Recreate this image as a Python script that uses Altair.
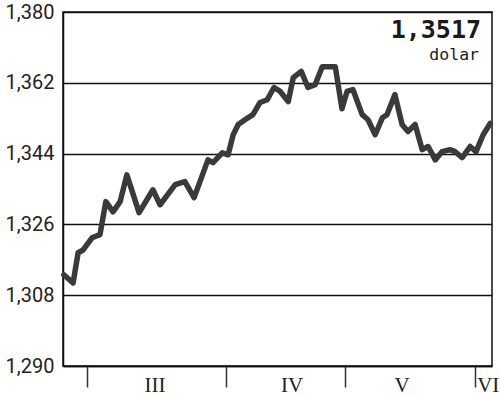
import altair as alt
import pandas as pd

# day index (position along the time axis) and exchange rate
dzien = [0.2, 2.4, 3.6, 4.8, 6.9, 8.8, 10.2, 11.9, 13.6, 15.2,
         18.1, 21.4, 23.1, 26.7, 29.0, 31.2, 34.5, 35.7, 37.9, 39.3,
         40.5, 41.7, 44.0, 45.2, 46.9, 48.6, 50.2, 51.7, 53.6, 54.8,
         56.7, 58.3, 60.0, 61.7, 64.8, 66.4, 67.6, 69.0, 71.2, 72.6,
         74.3, 76.0, 77.1, 79.0, 80.7, 82.1, 83.8, 85.5, 86.9, 88.6,
         90.2, 92.1, 93.3, 95.0, 96.9, 98.3, 100.0, 101.7]
kurs = [1.3132, 1.3111, 1.3188, 1.3195, 1.3226, 1.3234, 1.3318, 1.3292, 1.3318, 1.3386,
        1.3290, 1.3348, 1.3310, 1.3361, 1.3369, 1.3328, 1.3424, 1.3417, 1.3442, 1.3437,
        1.3488, 1.3514, 1.3531, 1.3539, 1.3570, 1.3577, 1.3608, 1.3598, 1.3572, 1.3633,
        1.3649, 1.3608, 1.3615, 1.3661, 1.3661, 1.3554, 1.3598, 1.3603, 1.3539, 1.3526,
        1.3488, 1.3531, 1.3539, 1.3590, 1.3514, 1.3496, 1.3514, 1.3450, 1.3458, 1.3424,
        1.3445, 1.3450, 1.3445, 1.3430, 1.3458, 1.3445, 1.3488, 1.3517]

# month boundaries and month labels
granice_miesiecy = [5.7, 38.8, 67.1, 98.1]
miesiace = ["III", "IV", "V", "VI"]
pozycje_miesiecy = [21.9, 54.5, 80.7, 101.2]

y_ticks = [1.290, 1.308, 1.326, 1.344, 1.362, 1.380]
ostatni = "1,3517"
waluta = "dolar"

df = pd.DataFrame({"dzien": dzien, "kurs": kurs})
df_m = pd.DataFrame({"miesiac": miesiace, "poz": pozycje_miesiecy})
df_t = pd.DataFrame({"t": [ostatni]})
df_w = pd.DataFrame({"t": [waluta]})

W, H = 429, 354

xscale = alt.Scale(domain=[0, 102.1], nice=False, zero=False)
yscale = alt.Scale(domain=[1.290, 1.380], nice=False, zero=False)

line = alt.Chart(df).mark_line(
    color="#3a3a3a", strokeWidth=5.5, strokeJoin="round", strokeCap="round"
).encode(
    x=alt.X("dzien:Q", scale=xscale, axis=alt.Axis(
        values=granice_miesiecy, labels=False, title=None, grid=False,
        ticks=True, tickSize=21, tickColor="#333", tickWidth=1.5,
        domain=True, domainColor="#111", domainWidth=1.5)),
    y=alt.Y("kurs:Q", scale=yscale, axis=alt.Axis(
        values=y_ticks, title=None, grid=True, gridColor="#111", gridWidth=1.5,
        ticks=False, labelPadding=9, domain=True, domainColor="#111", domainWidth=1.5,
        labelFont="Roboto", labelFontSize=20, labelColor="#222",
        labelExpr="replace(format(datum.value, '.3f'), '.', ',')")),
)

months = alt.Chart(df_m).mark_text(
    font="Liberation Serif", fontSize=21, color="#222", align="center", baseline="alphabetic"
).encode(
    x=alt.X("poz:Q", scale=xscale),
    y=alt.value(H + 26),
    text="miesiac:N",
)

title = alt.Chart(df_t).mark_text(
    font="DejaVu Sans Mono", fontSize=25, fontWeight="bold", color="#1a1a1a",
    align="right", baseline="alphabetic"
).encode(x=alt.value(418), y=alt.value(26), text="t:N")

unit = alt.Chart(df_w).mark_text(
    font="DejaVu Sans Mono", fontSize=16.5, color="#1a1a1a",
    align="right", baseline="alphabetic"
).encode(x=alt.value(416), y=alt.value(48), text="t:N")

chart = alt.layer(line, months, title, unit).properties(
    width=W, height=H,
    autosize=alt.AutoSizeParams(type="none"),
    padding={"left": 63, "top": 12, "right": 8, "bottom": 31},
    background="white",
).configure_view(stroke="#111", strokeWidth=1.5)

chart.save("out.html", embed_options={"renderer": "svg", "actions": False})
